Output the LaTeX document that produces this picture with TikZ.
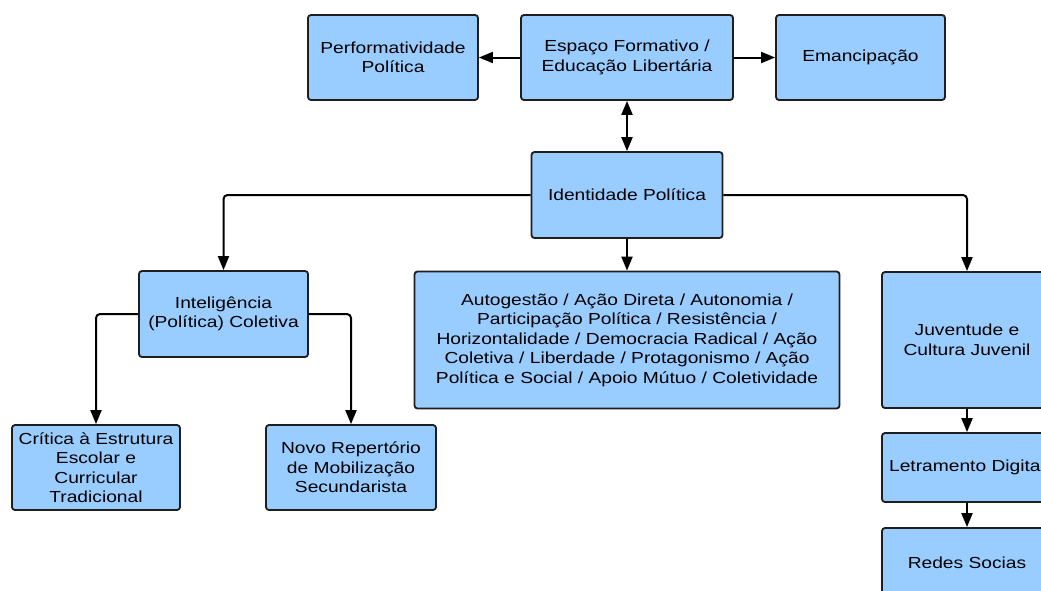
\documentclass[tikz,border=0pt]{standalone}
\usepackage{fontspec}
\setmainfont{Liberation Sans}[FakeStretch=1.2]
\usetikzlibrary{arrows.meta}
\definecolor{boxblue}{RGB}{153,204,255}
\definecolor{edgecol}{RGB}{30,30,30}
\begin{document}
\begin{tikzpicture}[x=1pt,y=-1pt,
  box/.style={draw=edgecol, line width=1.8pt, fill=boxblue, rounded corners=3pt,
    align=center, font=\fontsize{16}{19.5}\selectfont, inner sep=0pt},
  arr/.style={draw=black, line width=2pt, -{Triangle[length=14pt,width=11pt]}, rounded corners=4pt},
  darr/.style={draw=black, line width=2pt, {Triangle[length=14pt,width=11pt]}-{Triangle[length=14pt,width=11pt]}}]
\useasboundingbox (0,0) rectangle (1041,590);
\clip (0,0) rectangle (1041,590);
\fill[white] (0,0) rectangle (1041,590);

\node[box, minimum width=170pt, minimum height=85pt] (perf) at (393,57.5) {Performatividade\\Política};
\node[box, minimum width=212pt, minimum height=85pt] (esp) at (627,57.5) {Espaço Formativo /\\Educação Libertária};
\node[box, minimum width=169pt, minimum height=85pt] (eman) at (860.5,57.5) {Emancipação};
\node[box, minimum width=191pt, minimum height=86pt] (ident) at (627,195) {Identidade Política};
\node[box, minimum width=169pt, minimum height=86pt] (intel) at (223.5,314) {Inteligência\\(Política) Coletiva};
\node[box, minimum width=425pt, minimum height=137pt] (auto) at (627,340) {Autogestão / Ação Direta / Autonomia /\\Participação Política / Resistência /\\Horizontalidade / Democracia Radical / Ação\\Coletiva / Liberdade / Protagonismo / Ação\\Política e Social / Apoio Mútuo / Coletividade};
\node[box, minimum width=170pt, minimum height=136pt] (juv) at (967,340) {Juventude e\\Cultura Juvenil};
\node[box, minimum width=170pt, minimum height=69pt] (letr) at (967,467.5) {Letramento Digital};
\node[box, minimum width=170pt, minimum height=69pt] (redes) at (967,562.5) {Redes Socias};
\node[box, minimum width=168pt, minimum height=85pt] (crit) at (96,467.5) {Crítica à Estrutura\\Escolar e\\Curricular\\Tradicional};
\node[box, minimum width=170pt, minimum height=85pt] (novo) at (351,467.5) {Novo Repertório\\de Mobilização\\Secundarista};

\draw[arr] (esp.west) -- (perf.east);
\draw[arr] (esp.east) -- (eman.west);
\draw[darr] (esp.south) -- (ident.north);
\draw[arr] (ident.west) -| (intel.north);
\draw[arr] (ident.south) -- (auto.north);
\draw[arr] (ident.east) -| (juv.north);
\draw[arr] (intel.west) -| (crit.north);
\draw[arr] (intel.east) -| (novo.north);
\draw[arr] (juv.south) -- (letr.north);
\draw[arr] (letr.south) -- (redes.north);
\end{tikzpicture}
\end{document}
